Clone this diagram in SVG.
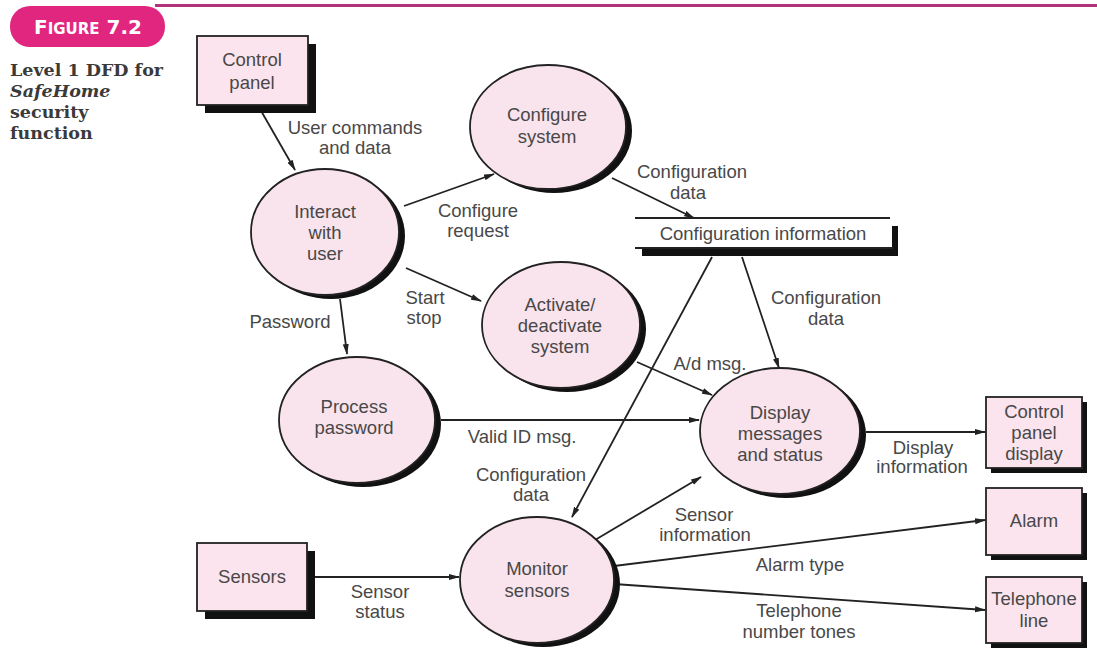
<svg xmlns="http://www.w3.org/2000/svg" width="1097" height="648" viewBox="0 0 1097 648">
<defs>
<marker id="ah" markerWidth="11" markerHeight="7" refX="10" refY="3.5" orient="auto" markerUnits="userSpaceOnUse">
<path d="M0,0.5 L11,3.5 L0,6.5 z" fill="#222"/>
</marker>
</defs>
<style>
.t{font-family:"Liberation Sans","DejaVu Sans",sans-serif;font-size:18.5px;fill:#484848;text-anchor:middle}
.cap{font-family:"DejaVu Serif","Liberation Serif",serif;font-size:17.5px;font-weight:bold;fill:#3a3a3a}
.box{fill:#fbe4ee;stroke:#222;stroke-width:1.8}
.sh{fill:#111}
.bub{fill:#f9e3ec;stroke:#222;stroke-width:1.8}
.fl{stroke:#222;stroke-width:1.8;fill:none;marker-end:url(#ah)}
</style>
<rect width="1097" height="648" fill="#fff"/>
<g id="header">
<rect x="155" y="4" width="942" height="3" fill="#b3327c"/>
<rect x="10" y="6" width="155" height="41" rx="20" fill="#e0267f"/>
<text x="88" y="34" text-anchor="middle" font-family="DejaVu Sans, sans-serif" font-weight="bold" fill="#fff"><tspan font-size="20">F</tspan><tspan font-size="15">IGURE</tspan><tspan font-size="20"> 7.2</tspan></text>
<text class="cap" x="10" y="76">Level 1 DFD for</text>
<text class="cap" x="10" y="97" font-style="italic">SafeHome</text>
<text class="cap" x="10" y="118">security</text>
<text class="cap" x="10" y="139">function</text>
</g>
<g id="connectors">
<line class="fl" x1="260" y1="109" x2="295" y2="170"/>
<line class="fl" x1="404" y1="206" x2="494" y2="174"/>
<line class="fl" x1="406" y1="268" x2="481" y2="301"/>
<line class="fl" x1="340" y1="299" x2="347" y2="354"/>
<line class="fl" x1="612" y1="178" x2="694" y2="218"/>
<line class="fl" x1="742" y1="257" x2="779" y2="368"/>
<line class="fl" x1="712" y1="257" x2="572" y2="517"/>
<line class="fl" x1="637" y1="362" x2="712" y2="395"/>
<line class="fl" x1="441" y1="420" x2="699" y2="420"/>
<line class="fl" x1="595" y1="540" x2="701" y2="477"/>
<line class="fl" x1="866" y1="432" x2="985" y2="432"/>
<line class="fl" x1="315" y1="577" x2="459" y2="577"/>
<line class="fl" x1="614" y1="566" x2="985" y2="520"/>
<line class="fl" x1="614" y1="584" x2="985" y2="610"/>
<text class="t" x="355" y="134">User commands</text>
<text class="t" x="355" y="154">and data</text>
<text class="t" x="478" y="217">Configure</text>
<text class="t" x="478" y="237">request</text>
<text class="t" x="425" y="304">Start</text>
<text class="t" x="424" y="324">stop</text>
<text class="t" x="290" y="328">Password</text>
<text class="t" x="692" y="178">Configuration</text>
<text class="t" x="688" y="199">data</text>
<text class="t" x="826" y="304">Configuration</text>
<text class="t" x="826" y="325">data</text>
<text class="t" x="710" y="370">A/d msg.</text>
<text class="t" x="522" y="443">Valid ID msg.</text>
<text class="t" x="531" y="481">Configuration</text>
<text class="t" x="531" y="501">data</text>
<text class="t" x="704" y="521">Sensor</text>
<text class="t" x="705" y="541">information</text>
<text class="t" x="923" y="454">Display</text>
<text class="t" x="922" y="473">information</text>
<text class="t" x="380" y="598">Sensor</text>
<text class="t" x="380" y="618">status</text>
<text class="t" x="800" y="571">Alarm type</text>
<text class="t" x="799" y="617">Telephone</text>
<text class="t" x="799" y="638">number tones</text>
</g>
<g id="control-panel">
<rect class="sh" x="205" y="44" width="111" height="69"/>
<rect class="box" x="197" y="36" width="111" height="69"/>
<text class="t" x="252" y="66">Control</text>
<text class="t" x="252" y="89">panel</text>
</g>
<g id="interact">
<ellipse class="sh" cx="331" cy="236" rx="74" ry="63"/>
<ellipse class="bub" cx="325" cy="232" rx="74" ry="63"/>
<text class="t" x="325" y="218">Interact</text>
<text class="t" x="325" y="239">with</text>
<text class="t" x="325" y="260">user</text>
</g>
<g id="configure">
<ellipse class="sh" cx="554" cy="131" rx="78" ry="62"/>
<ellipse class="bub" cx="548" cy="127" rx="78" ry="62"/>
<text class="t" x="547" y="121">Configure</text>
<text class="t" x="547" y="143">system</text>
</g>
<g id="store">
<line x1="635" y1="218" x2="890" y2="218" stroke="#222" stroke-width="2.2"/>
<rect x="642" y="249" width="256" height="7" fill="#111"/>
<rect x="892" y="226" width="6" height="30" fill="#111"/>
<line x1="635" y1="248" x2="893" y2="248" stroke="#222" stroke-width="2.2"/>
<text class="t" x="763" y="240">Configuration information</text>
</g>
<g id="activate">
<ellipse class="sh" cx="567" cy="329" rx="79" ry="63"/>
<ellipse class="bub" cx="561" cy="325" rx="79" ry="63"/>
<text class="t" x="560" y="311">Activate/</text>
<text class="t" x="560" y="332">deactivate</text>
<text class="t" x="560" y="353">system</text>
</g>
<g id="process">
<ellipse class="sh" cx="363" cy="424" rx="78" ry="63"/>
<ellipse class="bub" cx="357" cy="420" rx="78" ry="63"/>
<text class="t" x="354" y="413">Process</text>
<text class="t" x="354" y="434">password</text>
</g>
<g id="display">
<ellipse class="sh" cx="786" cy="435" rx="80" ry="63"/>
<ellipse class="bub" cx="780" cy="431" rx="80" ry="63"/>
<text class="t" x="780" y="419">Display</text>
<text class="t" x="780" y="440">messages</text>
<text class="t" x="780" y="461">and status</text>
</g>
<g id="monitor">
<ellipse class="sh" cx="543" cy="584" rx="77" ry="63"/>
<ellipse class="bub" cx="537" cy="580" rx="77" ry="63"/>
<text class="t" x="537" y="575">Monitor</text>
<text class="t" x="537" y="597">sensors</text>
</g>
<g id="sensors">
<rect class="sh" x="205" y="551" width="110" height="68"/>
<rect class="box" x="197" y="543" width="110" height="68"/>
<text class="t" x="252" y="583">Sensors</text>
</g>
<g id="cp-display">
<rect class="sh" x="991" y="402" width="96" height="71"/>
<rect class="box" x="986" y="397" width="96" height="71"/>
<text class="t" x="1034" y="418">Control</text>
<text class="t" x="1034" y="439">panel</text>
<text class="t" x="1034" y="460">display</text>
</g>
<g id="alarm">
<rect class="sh" x="991" y="493" width="96" height="67"/>
<rect class="box" x="986" y="488" width="96" height="67"/>
<text class="t" x="1034" y="527">Alarm</text>
</g>
<g id="telephone">
<rect class="sh" x="991" y="582" width="96" height="66"/>
<rect class="box" x="986" y="577" width="96" height="66"/>
<text class="t" x="1034" y="605">Telephone</text>
<text class="t" x="1034" y="627">line</text>
</g>
</svg>
